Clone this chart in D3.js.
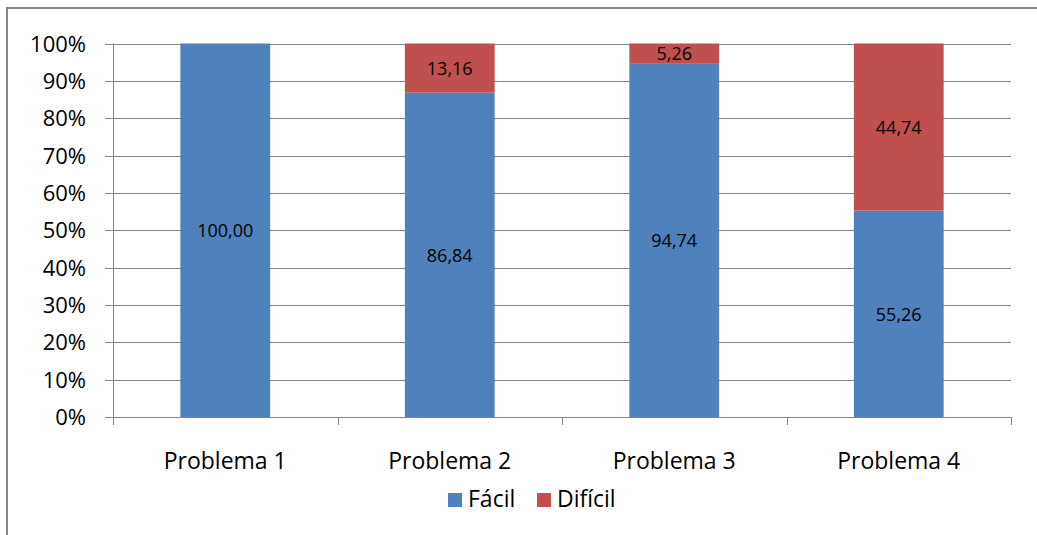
<!DOCTYPE html>
<html><head><meta charset="utf-8">
<script src="https://cdn.jsdelivr.net/npm/d3@7"></script>
<style>body{margin:0;background:#fff;} text{font-family:"Open Sans","Noto Sans",sans-serif;}</style>
</head><body>
<svg id="c" width="1037" height="535"></svg>
<script>
const categories = ["Problema 1","Problema 2","Problema 3","Problema 4"];
const facil = [100.00, 86.84, 94.74, 55.26];
const dificil = [0, 13.16, 5.26, 44.74];
const seriesNames = ["Fácil","Difícil"];
const colors = ["#4F81BD","#C0504D"];
const yTicks = [0,0.1,0.2,0.3,0.4,0.5,0.6,0.7,0.8,0.9,1.0];

(function(){
const svg = d3.select("#c");
svg.append("rect").attr("x",7).attr("y",8).attr("width",1040).attr("height",540)
  .attr("fill","#fff").attr("stroke","#868686").attr("stroke-width",2);

const pL=113, pR=1011, pT=43.5, pB=417;
const x = d3.scaleBand().domain(categories).range([pL,pR]).paddingInner(0.6).paddingOuter(0.3);
const y = d3.scaleLinear().domain([0,1]).range([pB,pT]);

svg.append("g").selectAll("line").data(yTicks).join("line")
  .attr("x1",pL-8).attr("x2",pR).attr("y1",d=>Math.round(y(d))+0.5).attr("y2",d=>Math.round(y(d))+0.5)
  .attr("stroke","#868686").attr("stroke-width",1);

svg.append("g").selectAll("text").data(yTicks).join("text")
  .attr("x",86).attr("y",d=>y(d)+8).attr("text-anchor","end")
  .attr("font-size",22).attr("fill","#000").text(d=>d3.format(".0%")(d));

const rows = categories.map((c,i)=>({cat:c, "Fácil":facil[i], "Difícil":dificil[i]}));
const stack = d3.stack().keys(seriesNames).offset(d3.stackOffsetExpand)(rows);

stack.forEach((s,si)=>{
  svg.append("g").selectAll("rect").data(s).join("rect")
    .attr("x",d=>x(d.data.cat)).attr("width",x.bandwidth())
    .attr("y",d=>y(d[1])).attr("height",d=>y(d[0])-y(d[1]))
    .attr("fill",colors[si]);
  svg.append("g").selectAll("text").data(s.filter(d=>d.data[seriesNames[si]]>0)).join("text")
    .attr("x",d=>x(d.data.cat)+x.bandwidth()/2).attr("y",d=>y((d[0]+d[1])/2)+7).attr("text-anchor","middle")
    .attr("font-size",18).attr("fill","#000")
    .text(d=>d3.format(".2f")(d.data[seriesNames[si]]).replace(".",","));
});

svg.append("line").attr("x1",pL+0.5).attr("x2",pL+0.5).attr("y1",pT).attr("y2",pB+8)
  .attr("stroke","#868686");
svg.append("line").attr("x1",pL).attr("x2",pR).attr("y1",Math.round(pB)+0.5).attr("y2",Math.round(pB)+0.5)
  .attr("stroke","#868686");
const bounds = d3.range(categories.length+1).map(i=>pL+i*(pR-pL)/categories.length);
svg.append("g").selectAll("line").data(bounds).join("line")
  .attr("x1",d=>Math.round(d)+0.5).attr("x2",d=>Math.round(d)+0.5).attr("y1",pB).attr("y2",pB+8)
  .attr("stroke","#868686");

svg.append("g").selectAll("text").data(categories).join("text")
  .attr("x",d=>x(d)+x.bandwidth()/2).attr("y",469).attr("text-anchor","middle")
  .attr("font-size",23).attr("fill","#000").text(d=>d);

const leg = [{n:seriesNames[0],c:colors[0],x:448},{n:seriesNames[1],c:colors[1],x:537}];
const lg = svg.append("g");
lg.selectAll("rect").data(leg).join("rect").attr("x",d=>d.x).attr("y",493).attr("width",14).attr("height",14).attr("fill",d=>d.c);
lg.selectAll("text").data(leg).join("text").attr("x",d=>d.x+20).attr("y",507)
  .attr("font-size",23).attr("fill","#000").text(d=>d.n);
})();
</script>
</body></html>
